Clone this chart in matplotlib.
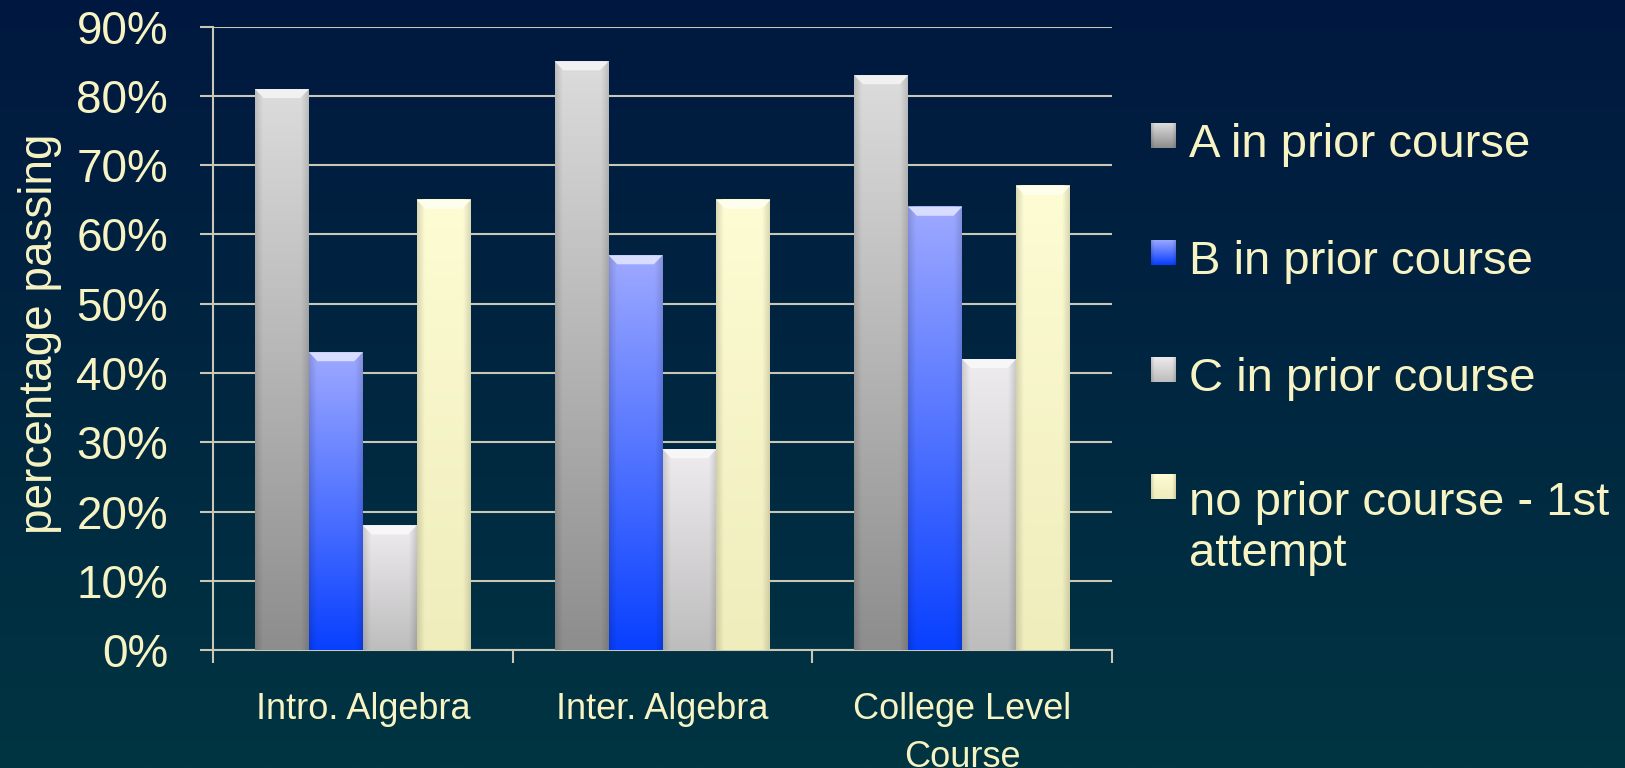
import numpy as np
import matplotlib
matplotlib.use("Agg")
import matplotlib.pyplot as plt
from matplotlib.colors import to_rgb
from matplotlib.patches import Polygon

plt.rcParams['font.family'] = ['Liberation Sans', 'DejaVu Sans']

# data
categories = ["Intro. Algebra", "Inter. Algebra", "College Level\nCourse"]
series_labels = ["A in prior course", "B in prior course", "C in prior course",
                 "no prior course - 1st\nattempt"]
a_prior = [81, 85, 83]
b_prior = [43, 57, 64]
c_prior = [18, 29, 42]
no_prior = [65, 65, 67]
y_ticks = [0, 10, 20, 30, 40, 50, 60, 70, 80, 90]

# colours: top and bottom of each bar gradient
top_colors = ["#dcdcdc", "#9ea9ff", "#eeecee", "#fdfcd3"]
bottom_colors = ["#8d8d8d", "#0840ff", "#bebdbe", "#efedbc"]
text_color = "#f7f3c3"
grid_color = "#c9c8b6"
bg_top = "#00183f"
bg_bottom = "#003542"


def bar_gradient(c_top, c_bot, rows=200, cols=60):
    t = np.linspace(0, 1, rows)[:, None, None]
    top = np.array(to_rgb(c_top))
    bot = np.array(to_rgb(c_bot))
    img = top + (bot - top) * t
    img = np.repeat(img, cols, axis=1)
    u = np.linspace(0, 1, cols)
    # darker bevelled sides
    edge = np.clip((np.abs(u - 0.5) - 0.36) / 0.14, 0, 1)
    shade = 1 - 0.14 * edge
    img = img * shade[None, :, None]
    return np.clip(img, 0, 1)


fig = plt.figure(figsize=(16.25, 7.68), dpi=100)

# background gradient
bg = fig.add_axes([0, 0, 1, 1], zorder=-10)
g = np.linspace(0, 1, 256)[:, None, None]
bg_img = np.array(to_rgb(bg_top)) + (np.array(to_rgb(bg_bottom)) - np.array(to_rgb(bg_top))) * g
bg.imshow(bg_img, aspect='auto', extent=[0, 1, 0, 1])
bg.axis('off')

ax = fig.add_axes([0.1311, 0.1536, 0.5532, 0.8116])
ax.set_facecolor('none')

x = np.arange(len(categories))
width = 0.18
series = [a_prior, b_prior, c_prior, no_prior]
for i, vals in enumerate(series):
    offs = (i - 1.5) * width
    bars = ax.bar(x + offs, vals, width, color='none', edgecolor='none', zorder=3)
    for b in bars:
        x0, w, h = b.get_x(), b.get_width(), b.get_height()
        ax.imshow(bar_gradient(top_colors[i], bottom_colors[i]),
                  extent=[x0, x0 + w, 0, h], aspect='auto', zorder=3,
                  interpolation='bilinear')
        # light bevel on top of the bar
        bw, bh = w * 0.16, 1.3
        light = np.array(to_rgb(top_colors[i])) * 0.4 + 0.6
        ax.add_patch(Polygon([(x0, h), (x0 + w, h), (x0 + w - bw, h - bh), (x0 + bw, h - bh)],
                             closed=True, facecolor=light, edgecolor='none', zorder=4))

ax.set_xlim(-0.5, 2.5)
ax.set_ylim(0, 90)

ax.set_yticks(y_ticks)
ax.set_yticklabels([f"{v}%" for v in y_ticks])
ax.yaxis.grid(True, color=grid_color, linewidth=1.5)
ax.set_axisbelow(True)
ax.tick_params(axis='y', length=9.4, width=1.5, color=grid_color, labelsize=33,
               labelcolor=text_color, pad=23)

ax.set_xticks(x)
ax.set_xticklabels(categories, linespacing=1.5)
ax.tick_params(axis='x', which='major', length=0, labelsize=26, labelcolor=text_color, pad=30)
ax.set_xticks([-0.5, 0.5, 1.5, 2.5], minor=True)
ax.tick_params(axis='x', which='minor', length=9, width=1.5, color=grid_color)

for side in ['top', 'right']:
    ax.spines[side].set_visible(False)
for side in ['left', 'bottom']:
    ax.spines[side].set_color(grid_color)
    ax.spines[side].set_linewidth(1.5)

ax.set_ylabel("percentage passing", fontsize=33, color=text_color)
ax.yaxis.set_label_coords(-0.168, 0.507)

# legend drawn by hand to match the slide layout
W, H = 1625.0, 768.0
baselines = [157, 274, 391, 508]
line_step = 58
for i, label in enumerate(series_labels):
    yb = baselines[i]
    sq = fig.add_axes([1151 / W, 1 - (yb - 9) / H, 25 / W, 25 / H])
    sq.imshow(bar_gradient(top_colors[i], bottom_colors[i], rows=30, cols=30),
              aspect='auto', extent=[0, 1, 0, 1], interpolation='bilinear')
    sq.axis('off')
    # va='baseline' sits on the last line, so shift by the extra lines
    n_extra = label.count("\n")
    fig.text(1189 / W, 1 - (yb + n_extra * line_step) / H, label, fontsize=34,
             color=text_color, ha='left', va='baseline', linespacing=1.2)

fig.savefig("out.png", dpi=100)
